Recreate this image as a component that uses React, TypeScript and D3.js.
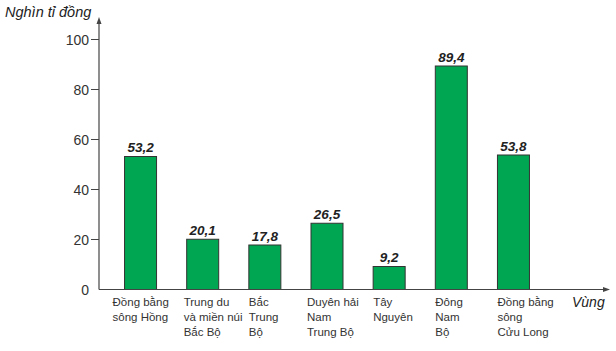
import React from "react";
import * as d3 from "d3";

const categories: string[][] = [
  ["Đồng bằng", "sông Hồng"],
  ["Trung du", "và miền núi", "Bắc Bộ"],
  ["Bắc", "Trung", "Bộ"],
  ["Duyên hải", "Nam", "Trung Bộ"],
  ["Tây", "Nguyên"],
  ["Đông", "Nam", "Bộ"],
  ["Đồng bằng", "sông", "Cửu Long"],
];
const values = [53.2, 20.1, 17.8, 26.5, 9.2, 89.4, 53.8];
const valueLabels = ["53,2", "20,1", "17,8", "26,5", "9,2", "89,4", "53,8"];
const yTicks = [0, 20, 40, 60, 80, 100];
const labelShift = [-12, -3, 0, -4, 0, 0, 0];

export default function App() {
  const W = 616, H = 351;
  const x0 = 99, y0 = 289.5;
  const y = d3.scaleLinear().domain([0, 100]).range([y0, 39.5]);
  const x = d3
    .scaleBand<number>()
    .domain(d3.range(categories.length))
    .range([109, 545])
    .paddingInner(0.485)
    .paddingOuter(0.25);
  const axisColor = "#444";
  const font = "Liberation Sans, Arial, sans-serif";
  return (
    <svg width={W} height={H} style={{ position: "absolute", left: 0, top: 0 }} fontFamily={font}>
      <rect width={W} height={H} fill="#fff" />
      <text x={5} y={17} fontSize={14.5} fontStyle="italic" fill="#222">Nghìn tỉ đồng</text>
      {/* y axis */}
      <line x1={x0} x2={x0} y1={y0} y2={22} stroke={axisColor} strokeWidth={1.2} />
      <path d={`M${x0 - 2.5},${24} L${x0},${17} L${x0 + 2.5},${24} Z`} fill={axisColor} />
      {yTicks.map((t) => (
        <g key={t}>
          {t > 0 && <line x1={x0 - 8} x2={x0} y1={y(t)} y2={y(t)} stroke={axisColor} strokeWidth={1} />}
          <text x={89} y={y(t) + 5} fontSize={14} textAnchor="end" fill="#333">{t}</text>
        </g>
      ))}
      {/* bars */}
      {values.map((v, i) => (
        <g key={i}>
          <rect
            x={x(i)!}
            y={y(v)}
            width={x.bandwidth()}
            height={y0 - y(v)}
            fill="#00a651"
            stroke="#333"
            strokeWidth={1}
          />
          <text
            x={x(i)! + x.bandwidth() / 2}
            y={y(v) - 4.5}
            fontSize={13.5}
            fontWeight="bold"
            fontStyle="italic"
            textAnchor="middle"
            fill="#222"
          >
            {valueLabels[i]}
          </text>
          <text x={x(i)! + labelShift[i]} y={306} fontSize={11.5} fill="#333">
            {categories[i].map((l, j) => (
              <tspan key={j} x={x(i)! + labelShift[i]} y={306 + j * 15}>{l}</tspan>
            ))}
          </text>
        </g>
      ))}
      {/* x axis */}
      <line x1={x0} x2={604} y1={y0} y2={y0} stroke={axisColor} strokeWidth={1.2} />
      <path d={`M${603},${y0 - 2.5} L${610},${y0} L${603},${y0 + 2.5} Z`} fill={axisColor} />
      <text x={572} y={307} fontSize={14} fontStyle="italic" fill="#222">Vùng</text>
    </svg>
  );
}
